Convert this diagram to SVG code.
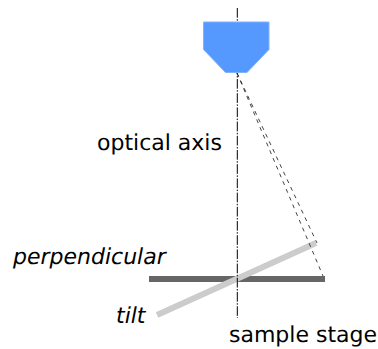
<svg xmlns="http://www.w3.org/2000/svg" width="378" height="349" viewBox="0 0 378 349">
<style>
text{font-family:"DejaVu Sans",sans-serif;font-size:22px;fill:#000;text-rendering:geometricPrecision}
.i{font-style:italic}
.d{fill:none;stroke:#222;stroke-width:.85;stroke-dasharray:4 4.4}
</style>
<g id="stage"><rect x="149" y="276" width="176" height="6" fill="#666"/></g>
<g id="tilted-stage"><line x1="157" y1="315" x2="316" y2="243" stroke="#ccc" stroke-width="6"/></g>
<g id="connectors">
<line x1="237.300" y1="8" x2="237.300" y2="318" fill="none" stroke="#000" stroke-width="1" stroke-dasharray="9.7 1.5 1.5 1.5"/>
<line class="d" x1="237" y1="73" x2="323" y2="276"/>
<line class="d" x1="237" y1="73" x2="317" y2="243"/>
</g>
<g id="objective"><polygon points="203.500,22 269,22 269,49.500 247,72.500 225.500,72.500 203.500,49.500" fill="#5599ff" stroke="#80b3ff" stroke-width="1"/></g>
<g id="labels">
<text x="97" y="150">optical axis</text>
<text class="i" x="13" y="264">perpendicular</text>
<text class="i" x="116" y="323">tilt</text>
<text x="229" y="342">sample stage</text>
</g>
</svg>
